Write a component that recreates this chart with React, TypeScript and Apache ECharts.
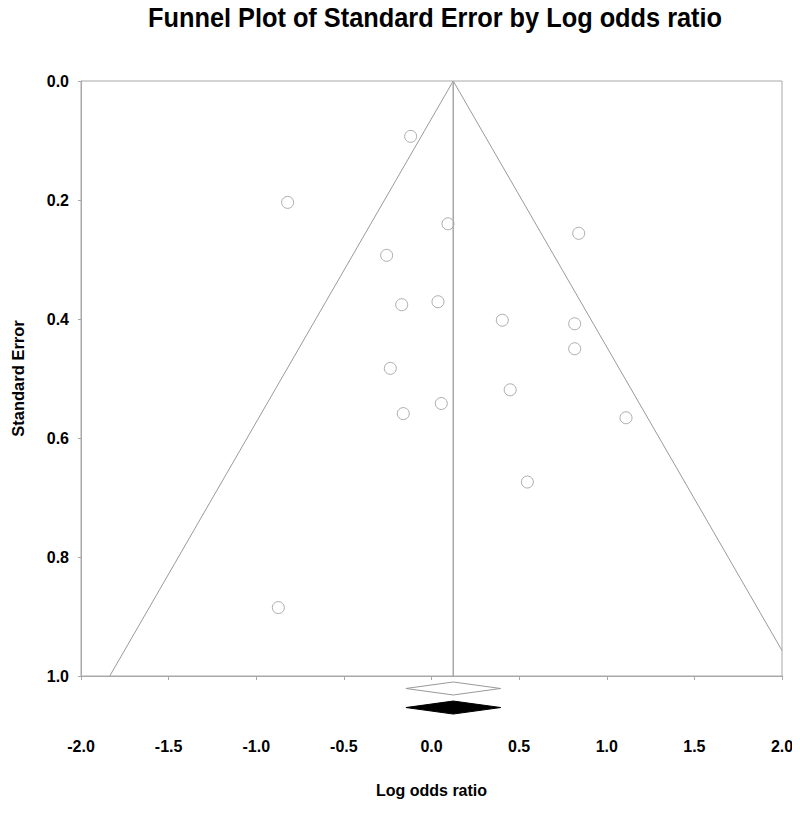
import React, { useEffect, useRef } from "react";
import * as echarts from "echarts";

// Study log odds ratios and standard errors
const logOddsRatio = [
  -0.119, -0.821, 0.094, 0.84, -0.256, -0.17, 0.037, 0.404, 0.817, 0.817,
  -0.235, 0.449, 0.056, -0.161, 1.11, 0.547, -0.874,
];
const standardError = [
  0.093, 0.204, 0.24, 0.256, 0.293, 0.376, 0.371, 0.402, 0.408, 0.45,
  0.483, 0.519, 0.542, 0.559, 0.566, 0.674, 0.885,
];

// Pooled estimate and its confidence interval (fixed / random)
const pooledEstimate = 0.124;
const pooledLower = [-0.146, -0.146];
const pooledUpper = [0.395, 0.395];
const diamondRow = [1.021, 1.053];
const diamondFill = ["#ffffff", "#000000"];

const xTicks = [-2.0, -1.5, -1.0, -0.5, 0.0, 0.5, 1.0, 1.5, 2.0];
const yTicks = [0.0, 0.2, 0.4, 0.6, 0.8, 1.0];

const titleText = "Funnel Plot of Standard Error by Log odds ratio";

const FONT = "'Liberation Sans', Arial, sans-serif";

export default function App() {
  const ref = useRef<HTMLDivElement>(null);

  useEffect(() => {
    if (!ref.current) return;
    const chart = echarts.init(ref.current, null, { renderer: "svg" });

    const xMin = xTicks[0];
    const xMax = xTicks[xTicks.length - 1];
    const yMax = yTicks[yTicks.length - 1];
    const z = 1.96;

    const leftLine = [
      [pooledEstimate - z * yMax, yMax],
      [pooledEstimate, 0],
    ];
    const rightLine = [
      [pooledEstimate, 0],
      [xMax, (xMax - pooledEstimate) / z],
    ];
    const centerLine = [
      [pooledEstimate, 0],
      [pooledEstimate, yMax],
    ];

    const points = logOddsRatio.map((x, i) => [x, standardError[i]]);
    const diamonds = diamondRow.map((row, i) => [
      pooledLower[i],
      pooledEstimate,
      pooledUpper[i],
      row,
      i,
    ]);

    const lineStyle = { color: "#9a9a9a", width: 1 };

    chart.setOption({
      animation: false,
      backgroundColor: "#ffffff",
      graphic: [
        {
          type: "text",
          x: 148,
          y: 4,
          scaleX: 0.905,
          style: {
            text: titleText,
            font: "bold 28px " + FONT,
            fill: "#000",
          },
        },
      ],
      grid: {
        left: 81,
        top: 81,
        right: 18,
        bottom: 158,
        show: true,
        borderColor: "#a8a8a8",
        borderWidth: 1,
      },
      xAxis: {
        type: "value",
        min: xMin,
        max: xMax,
        interval: 0.5,
        position: "bottom",
        name: "Log odds ratio",
        nameLocation: "middle",
        nameGap: 106,
        nameTextStyle: {
          fontFamily: FONT,
          fontWeight: "bold",
          fontSize: 16,
          color: "#000",
        },
        axisLine: { show: true, onZero: false, lineStyle: { color: "#a8a8a8" } },
        axisTick: { show: true, length: 4, lineStyle: { color: "#a8a8a8" } },
        splitLine: { show: false },
        axisLabel: {
          margin: 62,
          fontFamily: FONT,
          fontWeight: "bold",
          fontSize: 16,
          color: "#000",
          formatter: (v: number) => v.toFixed(1),
        },
      },
      yAxis: {
        type: "value",
        min: 0,
        max: yMax,
        interval: 0.2,
        inverse: true,
        position: "left",
        name: "Standard Error",
        nameLocation: "middle",
        nameGap: 55,
        nameTextStyle: {
          fontFamily: FONT,
          fontWeight: "bold",
          fontSize: 16.5,
          color: "#000",
        },
        axisLine: { show: true, onZero: false, lineStyle: { color: "#a8a8a8" } },
        axisTick: { show: true, length: 3, lineStyle: { color: "#a8a8a8" } },
        splitLine: { show: false },
        axisLabel: {
          margin: 12,
          fontFamily: FONT,
          fontWeight: "bold",
          fontSize: 16,
          color: "#000",
          formatter: (v: number) => v.toFixed(1),
        },
      },
      series: [
        {
          type: "line",
          data: leftLine,
          symbol: "none",
          lineStyle,
          silent: true,
        },
        {
          type: "line",
          data: rightLine,
          symbol: "none",
          lineStyle,
          silent: true,
        },
        {
          type: "line",
          data: centerLine,
          symbol: "none",
          lineStyle: { color: "#a8a8a8", width: 1.5 },
          silent: true,
        },
        {
          type: "scatter",
          data: points,
          symbol: "circle",
          symbolSize: 12,
          itemStyle: {
            color: "rgba(255,255,255,0)",
            borderColor: "#999999",
            borderWidth: 1,
          },
        },
        {
          type: "custom",
          clip: false,
          data: diamonds,
          renderItem: (params: any, api: any) => {
            const lo = api.coord([api.value(0), api.value(3)]);
            const mid = api.coord([api.value(1), api.value(3)]);
            const hi = api.coord([api.value(2), api.value(3)]);
            const idx = api.value(4);
            const h = 6.5;
            return {
              type: "polygon",
              shape: {
                points: [
                  [lo[0], lo[1]],
                  [mid[0], mid[1] - h],
                  [hi[0], hi[1]],
                  [mid[0], mid[1] + h],
                ],
              },
              style: {
                fill: diamondFill[idx],
                stroke: idx === 0 ? "#9a9a9a" : "#000000",
                lineWidth: 1,
              },
            };
          },
        },
      ],
    });

    return () => chart.dispose();
  }, []);

  return <div ref={ref} style={{ width: 800, height: 834, margin: -8 }} />;
}
